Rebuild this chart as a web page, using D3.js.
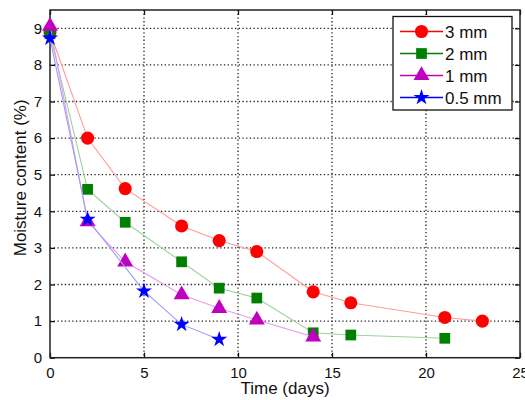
<!DOCTYPE html>
<html>
<head>
<meta charset="utf-8">
<script src="https://cdn.jsdelivr.net/npm/d3@7"></script>
<style>
  body { margin: 0; background: #fff; }
  svg text { font-family: "Liberation Sans", Arial, sans-serif; fill: #111; }
</style>
</head>
<body>
<svg id="chart" width="525" height="400"></svg>
<script>
// Drying curves, moisture content vs time, by particle size
var days3 = [0, 2, 4, 7, 9, 11, 14, 16, 21, 23];
var mc3 = [8.9, 6.0, 4.62, 3.6, 3.2, 2.9, 1.8, 1.5, 1.1, 1.0];
var days2 = [0, 2, 4, 7, 9, 11, 14, 16, 21];
var mc2 = [8.85, 4.6, 3.7, 2.62, 1.9, 1.63, 0.68, 0.62, 0.53];
var days1 = [0, 2, 4, 7, 9, 11, 14];
var mc1 = [9.06, 3.72, 2.62, 1.72, 1.35, 1.03, 0.57];
var days05 = [0, 2, 5, 7, 9];
var mc05 = [8.73, 3.78, 1.82, 0.91, 0.5];

var labels = ["3 mm", "2 mm", "1 mm", "0.5 mm"];
var xTicks = [0, 5, 10, 15, 20, 25];
var yTicks = [0, 1, 2, 3, 4, 5, 6, 7, 8, 9];

var series = [
  { name: labels[0], x: days3, y: mc3, color: "#ff0000", line: "#ff9a9a", shape: d3.symbolCircle, size: 135 },
  { name: labels[1], x: days2, y: mc2, color: "#007f00", line: "#9ad49a", shape: d3.symbolSquare, size: 115 },
  { name: labels[2], x: days1, y: mc1, color: "#bf00bf", line: "#e79ae7", shape: d3.symbolTriangle, size: 110 },
  { name: labels[3], x: days05, y: mc05, color: "#0000ff", line: "#9a9aff", shape: d3.symbolStar, size: 80 }
];

var svg = d3.select("#chart");
var plot = { left: 50, right: 520, top: 10, bottom: 357.7 };

var x = d3.scaleLinear().domain([0, 25]).range([plot.left, plot.right]);
var y = d3.scaleLinear().domain([0, 9.5]).range([plot.bottom, plot.top]);

// grid
var grid = svg.append("g");
grid.selectAll(".gx").data(xTicks.slice(1, -1)).enter().append("line")
  .attr("x1", d => x(d)).attr("x2", d => x(d))
  .attr("y1", plot.top).attr("y2", plot.bottom)
  .attr("stroke", "#222").attr("stroke-width", 1.3).attr("stroke-dasharray", "1.3,2.4");
grid.selectAll(".gy").data(yTicks.slice(1)).enter().append("line")
  .attr("x1", plot.left).attr("x2", plot.right)
  .attr("y1", d => y(d)).attr("y2", d => y(d))
  .attr("stroke", "#222").attr("stroke-width", 1.3).attr("stroke-dasharray", "1.3,2.4");

// axes (ticks inside, like matlab)
svg.append("g").attr("transform", "translate(0," + plot.bottom + ")")
  .call(d3.axisBottom(x).tickValues(xTicks).tickSize(-5).tickPadding(10))
  .call(g => g.select(".domain").remove());
svg.append("g").attr("transform", "translate(" + plot.left + ",0)")
  .call(d3.axisLeft(y).tickValues(yTicks).tickSize(-5).tickPadding(8))
  .call(g => g.select(".domain").remove());
svg.append("g").attr("transform", "translate(0," + plot.top + ")")
  .call(d3.axisTop(x).tickValues(xTicks).tickSize(-5).tickFormat(""))
  .call(g => g.select(".domain").remove());
svg.append("g").attr("transform", "translate(" + plot.right + ",0)")
  .call(d3.axisRight(y).tickValues(yTicks).tickSize(-5).tickFormat(""))
  .call(g => g.select(".domain").remove());

svg.selectAll(".tick line").attr("stroke", "#111").attr("stroke-width", 1.3);
svg.selectAll(".tick text").style("font-size", "15px").attr("fill", "#111");

svg.append("rect")
  .attr("x", plot.left).attr("y", plot.top)
  .attr("width", plot.right - plot.left).attr("height", plot.bottom - plot.top)
  .attr("fill", "none").attr("stroke", "#222").attr("stroke-width", 1.5);

// series
var line = d3.line().x(d => x(d[0])).y(d => y(d[1]));
series.forEach(function (s) {
  var pts = s.x.map((d, i) => [d, s.y[i]]);
  svg.append("path").datum(pts)
    .attr("d", line)
    .attr("fill", "none").attr("stroke", s.line).attr("stroke-width", 1.1);
  svg.append("g").selectAll("path").data(pts).enter().append("path")
    .attr("transform", d => "translate(" + x(d[0]) + "," + y(d[1]) + ")")
    .attr("d", d3.symbol().type(s.shape).size(s.size))
    .attr("fill", s.color);
});

// legend
var lg = svg.append("g");
lg.append("rect")
  .attr("x", 393).attr("y", 16.5).attr("width", 119).attr("height", 93.5)
  .attr("fill", "#fff").attr("stroke", "#111").attr("stroke-width", 1.3);
series.forEach(function (s, i) {
  var ly = 31.5 + i * 22;
  lg.append("line").attr("x1", 400).attr("x2", 443).attr("y1", ly).attr("y2", ly)
    .attr("stroke", s.color).attr("stroke-width", 1.3);
  lg.append("path").attr("transform", "translate(421.5," + ly + ")")
    .attr("d", d3.symbol().type(s.shape).size(s.size)).attr("fill", s.color);
  lg.append("text").attr("x", 445).attr("y", ly + 6)
    .style("font-size", "17px").text(s.name);
});

// axis titles
svg.append("text")
  .attr("x", (plot.left + plot.right) / 2).attr("y", 394)
  .attr("text-anchor", "middle").style("font-size", "17px")
  .text("Time (days)");
svg.append("text")
  .attr("transform", "translate(26," + ((plot.top + plot.bottom) / 2 - 6) + ") rotate(-90)")
  .attr("text-anchor", "middle").style("font-size", "17px")
  .text("Moisture content (%)");
</script>
</body>
</html>
